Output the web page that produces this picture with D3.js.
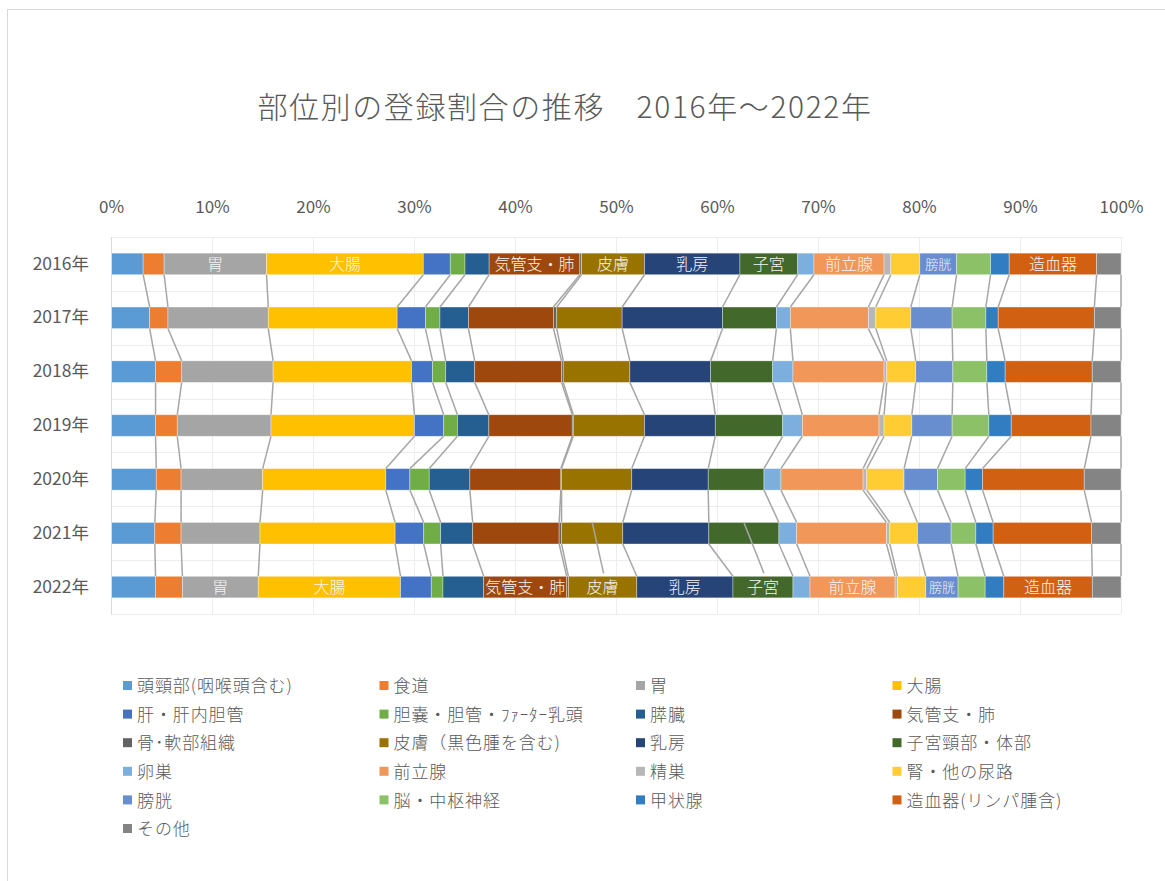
<!DOCTYPE html>
<html>
<head>
<meta charset="utf-8">
<script src="https://cdn.jsdelivr.net/npm/d3@7"></script>
<style>
  body { margin: 0; background: #fff; }
  text { font-family: "Noto Sans CJK JP", "Noto Sans", sans-serif; }
</style>
</head>
<body>
<svg id="chart" width="1165" height="881"></svg>
<script>
// categories (series) and years
const sites = ["頭頸部(咽喉頭含む)", "食道", "胃", "大腸", "肝・肝内胆管", "胆嚢・胆管・ﾌｧｰﾀｰ乳頭", "膵臓", "気管支・肺",
  "骨･軟部組織", "皮膚（黒色腫を含む)", "乳房", "子宮頸部・体部", "卵巣", "前立腺", "精巣", "腎・他の尿路",
  "膀胱", "脳・中枢神経", "甲状腺", "造血器(リンパ腫含)", "その他"];
const colors = ["#5b9bd5", "#ed7d31", "#a5a5a5", "#ffc000", "#4472c4", "#70ad47", "#255e91", "#9e480e",
  "#636363", "#997300", "#264478", "#43682b", "#7cafdd", "#f1975a", "#b7b7b7", "#ffcd33",
  "#698ed0", "#8cc168", "#327dc2", "#d26012", "#848484"];
const years = ["2016年", "2017年", "2018年", "2019年", "2020年", "2021年", "2022年"];

// share (%) of each site, one array per year, in the order of `sites`
const v2016 = [3.18, 2.08, 10.14, 15.52, 2.67, 1.46, 2.39, 8.98, 0.17, 6.23, 9.45, 5.72, 1.61, 6.94, 0.67, 2.87, 3.64, 3.37, 1.84, 8.66, 2.41];
const v2017 = [3.83, 1.81, 9.93, 12.76, 2.80, 1.44, 2.82, 8.41, 0.33, 6.48, 9.94, 5.33, 1.38, 7.73, 0.73, 3.47, 4.09, 3.34, 1.22, 9.52, 2.64];
const v2018 = [4.41, 2.59, 9.05, 13.71, 2.08, 1.30, 2.87, 8.60, 0.17, 6.59, 8.00, 6.14, 2.01, 9.02, 0.27, 2.87, 3.67, 3.37, 1.81, 8.62, 2.85];
const v2019 = [4.41, 2.15, 9.28, 14.20, 2.90, 1.36, 3.11, 8.26, 0.10, 7.05, 7.01, 6.67, 1.95, 7.59, 0.50, 2.75, 3.99, 3.64, 2.21, 7.90, 2.97];
const v2020 = [4.48, 2.46, 8.08, 12.19, 2.38, 1.92, 4.02, 9.01, 0.07, 6.95, 7.57, 5.52, 1.68, 8.13, 0.37, 3.69, 3.31, 2.74, 1.72, 10.07, 3.64];
const v2021 = [4.34, 2.60, 7.81, 13.38, 2.83, 1.68, 3.17, 8.56, 0.24, 6.06, 8.52, 6.94, 1.76, 8.89, 0.33, 2.74, 3.33, 2.45, 1.71, 9.75, 2.91];
const v2022 = [4.41, 2.66, 7.51, 14.09, 3.04, 1.16, 4.03, 8.22, 0.17, 6.77, 9.52, 5.94, 1.69, 8.42, 0.24, 2.80, 3.20, 2.68, 1.85, 8.76, 2.84];

// short labels drawn inside the bars of the first and last year
const barLabels = { 2: "胃", 3: "大腸", 7: "気管支・肺", 9: "皮膚", 10: "乳房", 11: "子宮", 13: "前立腺", 16: "膀胱", 19: "造血器" };
const tickValues = [0, 0.1, 0.2, 0.3, 0.4, 0.5, 0.6, 0.7, 0.8, 0.9, 1];

const yearValues = [v2016, v2017, v2018, v2019, v2020, v2021, v2022];
const rows = years.map((yr, j) => {
  const total = d3.sum(yearValues[j]);
  const r = { year: yr };
  sites.forEach((s, i) => r[s] = yearValues[j][i] / total);
  return r;
});
const series = d3.stack().keys(sites)(rows);

const svg = d3.select("#chart");
const plotLeft = 111, plotRight = 1121, plotTop = 237, plotBottom = 614;

const x = d3.scaleLinear().domain([0, 1]).range([plotLeft, plotRight]);
const y = d3.scaleBand().domain(years).range([plotTop, plotBottom]).paddingInner(0.6).paddingOuter(0.3);
const band = d3.scaleBand().domain(years).range([plotTop, plotBottom]);

// chart border
svg.append("rect")
  .attr("x", 7.5).attr("y", 9.5).attr("width", 1200).attr("height", 900)
  .attr("fill", "#fff").attr("stroke", "#d9d9d9");

// title
svg.append("text")
  .attr("x", 565).attr("y", 118)
  .attr("text-anchor", "middle")
  .style("font-size", "30px")
  .style("font-weight", 300)
  .style("letter-spacing", "1.6px")
  .attr("fill", "#595959")
  .text("部位別の登録割合の推移　2016年～2022年");

// grid
const grid = svg.append("g").attr("stroke", "#ededed").attr("stroke-width", 1);
grid.selectAll("line.v").data(tickValues).join("line")
  .attr("class", "v")
  .attr("x1", d => Math.round(x(d)) + 0.5).attr("x2", d => Math.round(x(d)) + 0.5)
  .attr("y1", plotTop).attr("y2", plotBottom);
grid.selectAll("line.h").data(years.map(d => band(d)).concat([plotBottom])).join("line")
  .attr("class", "h")
  .attr("x1", plotLeft).attr("x2", plotRight)
  .attr("y1", d => Math.round(d) + 0.5).attr("y2", d => Math.round(d) + 0.5);

// X axis (top)
svg.append("g")
  .attr("transform", `translate(0,${plotTop - 21})`)
  .call(d3.axisTop(x).tickValues(tickValues).tickFormat(d3.format(".0%")).tickSize(0))
  .call(g => g.select(".domain").remove())
  .selectAll("text")
  .style("font-size", "17px")
  .style("font-family", "'Noto Sans CJK JP', sans-serif")
  .attr("fill", "#595959");

// Y axis
svg.append("g")
  .attr("transform", `translate(${plotLeft - 19},0)`)
  .call(d3.axisLeft(y).tickSize(0))
  .call(g => g.select(".domain").remove())
  .selectAll("text")
  .style("font-size", "17.5px")
  .style("font-family", "'Noto Sans CJK JP', sans-serif")
  .attr("fill", "#595959");

// Bars
svg.append("g").selectAll("g")
  .data(series)
  .join("g")
  .attr("fill", (d, i) => colors[i])
  .selectAll("rect")
  .data(d => d)
  .join("rect")
  .attr("x", d => x(d[0]))
  .attr("y", d => y(d.data.year))
  .attr("width", d => x(d[1]) - x(d[0]))
  .attr("height", y.bandwidth())
  .attr("stroke", "#ffffff")
  .attr("stroke-opacity", 0.45)
  .attr("stroke-width", 0.75);

// category axis line
svg.append("line")
  .attr("x1", plotLeft + 0.5).attr("x2", plotLeft + 0.5)
  .attr("y1", plotTop).attr("y2", plotBottom)
  .attr("stroke", "#d9d9d9");

// series lines between consecutive bars
const links = [];
series.forEach(s => {
  for (let j = 0; j < years.length - 1; j++) {
    links.push({ x1: x(s[j][1]), y1: y(years[j]) + y.bandwidth(), x2: x(s[j + 1][1]), y2: y(years[j + 1]) });
  }
});
svg.append("g").selectAll("line")
  .data(links)
  .join("line")
  .attr("x1", d => d.x1).attr("y1", d => d.y1)
  .attr("x2", d => d.x2).attr("y2", d => d.y2)
  .attr("stroke", "#a6a6a6")
  .attr("stroke-width", 1.5);

// data labels on first and last year
const labelData = [];
[0, years.length - 1].forEach(j => {
  Object.entries(barLabels).forEach(([i, txt]) => {
    const seg = series[+i][j];
    labelData.push({ txt, i: +i, cx: x((seg[0] + seg[1]) / 2), cy: y(years[j]) + y.bandwidth() / 2 });
  });
});

// leader lines (2021 segment -> 2022 label) for 皮膚 and 子宮
[9, 11].forEach(i => {
  const s21 = series[i][5], s22 = series[i][6];
  svg.append("line")
    .attr("x1", x((s21[0] + s21[1]) / 2)).attr("y1", y(years[5]))
    .attr("x2", x((s22[0] + s22[1]) / 2) + 1).attr("y2", y(years[6]) - 3)
    .attr("stroke", "#a6a6a6").attr("stroke-width", 1.5);
});

svg.append("g").selectAll("text")
  .data(labelData)
  .join("text")
  .attr("x", d => d.cx)
  .attr("y", d => d.cy)
  .attr("dy", "0.36em")
  .attr("text-anchor", "middle")
  .style("font-size", d => d.i === 16 ? "13px" : "16px")
  .style("font-weight", 300)
  .attr("fill", "#f4f4f4")
  .text(d => d.txt);

// Legend
const legend = svg.append("g").selectAll("g")
  .data(sites)
  .join("g")
  .attr("transform", (d, i) => `translate(${123 + (i % 4) * 256.5},${686 + Math.floor(i / 4) * 28.6})`);
legend.append("rect")
  .attr("x", 0).attr("y", -5).attr("width", 9).attr("height", 9)
  .attr("fill", (d, i) => colors[i]);
legend.append("text")
  .attr("x", 14).attr("y", 0).attr("dy", "0.36em")
  .style("font-size", "17px")
  .style("font-weight", 300)
  .style("letter-spacing", "0.9px")
  .attr("fill", "#595959")
  .text(d => d);
</script>
</body>
</html>
